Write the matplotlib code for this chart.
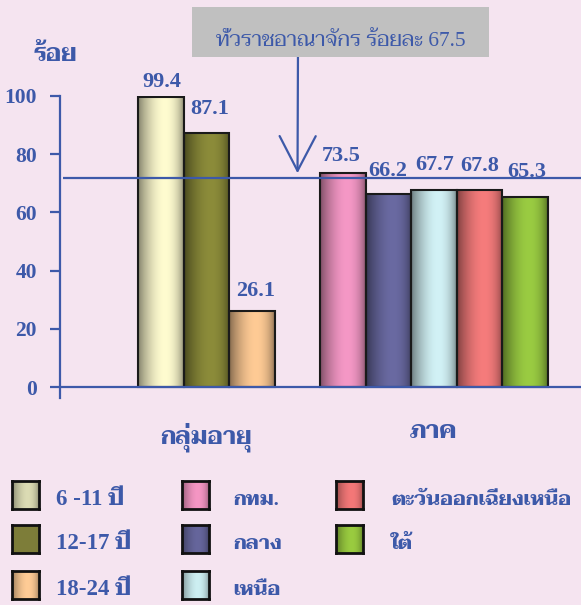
import numpy as np
import matplotlib
matplotlib.use("Agg")
import matplotlib.pyplot as plt
from matplotlib import font_manager as fm
from matplotlib import transforms
from matplotlib.patches import Rectangle
from matplotlib.colors import to_rgb

# ---------------- data ----------------
age_groups = ["6 -11 ปี", "12-17 ปี", "18-24 ปี"]
age_values = [99.4, 87.1, 26.1]
regions = ["กทม.", "กลาง", "เหนือ", "ตะวันออกเฉียงเหนือ", "ใต้"]
region_values = [73.5, 66.2, 67.7, 67.8, 65.3]
group_titles = ["กลุ่มอายุ", "ภาค"]
national_text = "ทั่วราชอาณาจักร ร้อยละ 67.5"
line_level = 71.7          # reference line as drawn in the picture
y_ticks = [0, 20, 40, 60, 80, 100]
y_title = "ร้อย"

age_colors = ["#FFFCD0", "#8C8C3A", "#FFCB95"]
region_colors = ["#F598C6", "#6A6AA2", "#D2F2F6", "#F67C7C", "#9ACC42"]
legend_colors = ["#DCDCB4", "#7E7E3A", "#FFCC96", "#F596C4", "#66669C",
                 "#CDEFF2", "#F47878", "#9ACC40"]
legend_shade = [0.6, 0.97, 0.6, 0.6, 0.6, 0.6, 0.6, 0.6]

# ---------------- style ----------------
W, H = 581, 605
BG = "#F5E4F0"
BLUE = "#3D59A9"


def pick(cands):
    for c in cands:
        try:
            fm.findfont(fm.FontProperties(family=c), fallback_to_default=False)
            return c
        except Exception:
            pass
    return "DejaVu Sans"


THAI = pick(["Taviraj", "Trirong", "Sarabun", "Noto Serif Thai", "Noto Sans Thai"])
FAM = ["Liberation Serif", THAI]
plt.rcParams["font.family"] = FAM

fig = plt.figure(figsize=(W / 100, H / 100), dpi=100, facecolor=BG)


def fx(x):
    return x / W


def fy(y):
    return 1 - y / H


ymin = -3.7
ax = fig.add_axes([fx(60), fy(398), 1 - fx(60), fy(95.7) - fy(398)])
ax.set_facecolor("none")

positions_age = [0, 1, 2]
positions_reg = [4, 5, 6, 7, 8]
positions = positions_age + positions_reg
values = age_values + region_values
colors = age_colors + region_colors


def gradient(color, k=0.5, n=80):
    t = np.linspace(0, 1, n)
    s = np.sin(np.pi * t ** 1.3) ** 0.6
    base = np.array(to_rgb(color))
    img = base[None, :] * (k + (1 - k) * s[:, None])
    return np.clip(img[None, :, :], 0, 1)


bars = ax.bar(positions, values, width=1.0, color="none", edgecolor="#1A1A1A",
              linewidth=1.5, zorder=3)
for b, c in zip(bars, colors):
    x0, w, h = b.get_x(), b.get_width(), b.get_height()
    ax.imshow(gradient(c), extent=(x0, x0 + w, 0, h), aspect="auto",
              interpolation="bilinear", zorder=2.5)

xl = (-2.22, 9.23)
ax.set_xlim(*xl)
ax.set_ylim(ymin, 100)

for s in ["top", "right", "bottom"]:
    ax.spines[s].set_visible(False)
ax.spines["left"].set_color(BLUE)
ax.spines["left"].set_linewidth(1.6)
ax.axhline(0, color=BLUE, lw=1.6, zorder=4)
ax.set_xticks([])
ax.set_yticks(y_ticks, labels=[str(v) for v in y_ticks], fontweight="bold",
              fontsize=15.5, family=FAM)
ax.tick_params(axis="y", length=7.2, width=1.6, color=BLUE, labelcolor=BLUE,
               pad=9.5)

# reference line
ax.hlines(line_level, xl[0] + 3 / 45.5, xl[1], color=BLUE, lw=1.6, zorder=4)

# value labels (pixel offsets: dx, dy above bar top)
label_offsets = [(1, 10), (3.5, 19), (3.5, 15), (-1.5, 12), (-0.5, 18),
                 (0.5, 20), (0, 19), (1.5, 20)]
for p, v, (dx, dy) in zip(positions, values, label_offsets):
    ax.annotate(f"{v:.1f}", xy=(p, v), xytext=(dx * 0.72, dy * 0.72),
                textcoords="offset points", ha="center", va="baseline",
                fontsize=16, fontweight="bold", color=BLUE, zorder=6)

renderer = fig.canvas.get_renderer()


def fit(t, width_px):
    bb = t.get_window_extent(renderer)
    if bb.width > 0:
        t.set_fontsize(t.get_fontsize() * width_px / bb.width)
    return t


# group titles
blend = transforms.blended_transform_factory(ax.transData, fig.transFigure)
g1 = ax.text(np.mean(positions_age), fy(443), group_titles[0], transform=blend,
             ha="center", va="baseline", color=BLUE, fontweight="bold", fontsize=16)
fit(g1, 92)
g2 = ax.text(np.mean(positions_reg), fy(438), group_titles[1], transform=blend,
             ha="center", va="baseline", color=BLUE, fontweight="bold", fontsize=16)
fit(g2, 48)

# y title
yt = fig.text(fx(55), fy(61), y_title, ha="center", va="baseline", color=BLUE,
              fontweight="bold", fontsize=16)
fit(yt, 44)

# national average box + arrow
fig.patches.append(Rectangle((fx(192), fy(57)), fx(297), 50 / H,
                             transform=fig.transFigure, facecolor="#C0C0C0",
                             edgecolor="none", zorder=1))
bt = fig.text(fx(341), fy(46.5), national_text, ha="center", va="baseline",
              color=BLUE, fontsize=14, zorder=3)
fit(bt, 250)
ax.annotate("", xy=(3, line_level + 1.7), xycoords="data",
            xytext=(fx(298), fy(46)), textcoords="figure fraction",
            arrowprops=dict(arrowstyle="->,head_length=1.25,head_width=0.65",
                            color=BLUE, lw=1.6, shrinkA=0, shrinkB=0,
                            mutation_scale=20),
            annotation_clip=False, zorder=5)

# legend
labels = age_groups + regions
col_x = [12, 182, 336]
text_x = [56, 233, 391]
row_top = [481, 525, 571]
bw, bh = 27, 28
entries = []
for i, (lab, c, k) in enumerate(zip(labels, legend_colors, legend_shade)):
    col = 0 if i < 3 else (1 if i < 6 else 2)
    row = i if i < 3 else (i - 3 if i < 6 else i - 6)
    bax = fig.add_axes([fx(col_x[col]), fy(row_top[row] + bh), bw / W, bh / H])
    bax.imshow(gradient(c, k=k), aspect="auto", interpolation="bilinear")
    bax.set_xticks([])
    bax.set_yticks([])
    for s in bax.spines.values():
        s.set_color("#111111")
        s.set_linewidth(2.0)
    t = fig.text(fx(text_x[col]), fy(row_top[row] + bh / 2 + 10), lab,
                 ha="left", va="baseline", color=BLUE, fontweight="bold",
                 fontsize=16.5 if col == 0 else 15)
    entries.append(t)

fit(entries[6], 180)
for t in entries[3:]:
    t.set_fontsize(entries[6].get_fontsize())

fig.savefig("out.png", dpi=100, facecolor=BG)
